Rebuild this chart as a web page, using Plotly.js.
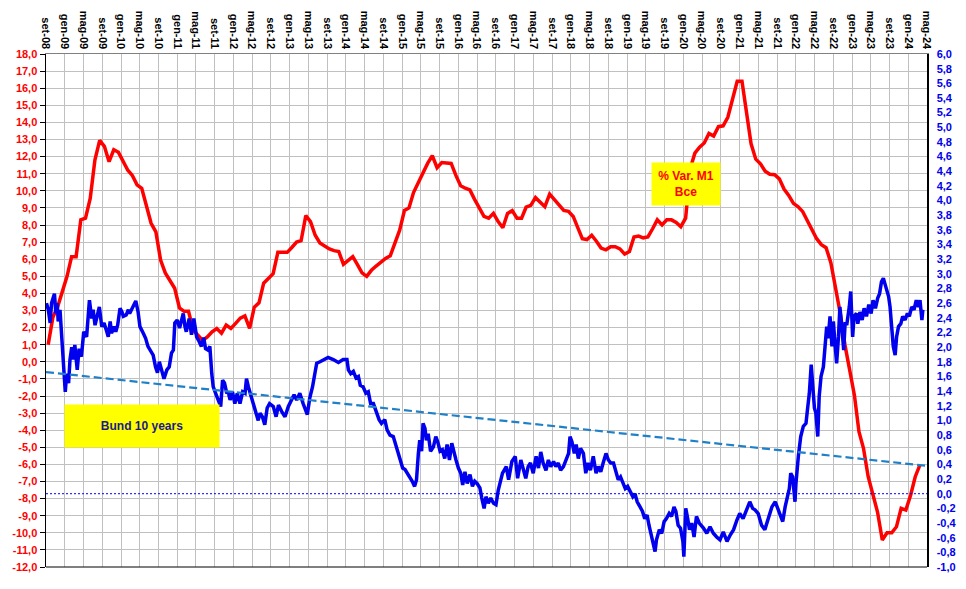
<!DOCTYPE html>
<html>
<head>
<meta charset="utf-8">
<script src="https://cdn.plot.ly/plotly-3.0.1.min.js"></script>
<style>html,body{margin:0;padding:0;background:#fff;}#chart{width:966px;height:589px;}</style>
</head>
<body>
<div id="chart"></div>
<script>
// ---- x-axis tick labels (every 4 months, from set-08 to mag-24) ----
const monthLabels = ['set-08','gen-09','mag-09','set-09','gen-10','mag-10','set-10','gen-11','mag-11','set-11',
  'gen-12','mag-12','set-12','gen-13','mag-13','set-13','gen-14','mag-14','set-14','gen-15','mag-15','set-15',
  'gen-16','mag-16','set-16','gen-17','mag-17','set-17','gen-18','mag-18','set-18','gen-19','mag-19','set-19',
  'gen-20','mag-20','set-20','gen-21','mag-21','set-21','gen-22','mag-22','set-22','gen-23','mag-23','set-23',
  'gen-24','mag-24'];

// ---- % Var. M1 Bce : monthly values, set-08 .. mar-24 (left axis) ----
const m1Values = [
  1.0, 2.6, 3.2, 4.1, 5.0, 6.15, 6.15, 8.3, 8.4, 9.55,
  11.8, 12.95, 12.6, 11.7, 12.4, 12.25, 11.7, 11.2, 10.9, 10.35,
  10.15, 9.1, 8.1, 7.6, 5.95, 5.2, 4.75, 4.3, 3.15, 2.95,
  2.95, 1.85, 1.55, 1.25, 1.45, 1.75, 1.95, 1.67, 2.15, 1.95,
  2.25, 2.55, 2.68, 1.96, 3.2, 3.45, 4.6, 4.9, 5.15, 6.4,
  6.4, 6.4, 6.7, 7.0, 7.08, 8.55, 8.2, 7.4, 6.95, 6.75,
  6.6, 6.5, 6.45, 5.7, 5.95, 6.15, 5.7, 5.2, 5.0, 5.35,
  5.6, 5.85, 6.05, 6.2, 6.9, 7.7, 8.85, 9.0, 9.9, 10.5,
  11.1, 11.6, 12.05, 11.35, 11.65, 11.62, 11.6, 10.9, 10.3, 10.15,
  10.05, 9.5, 9.0, 8.5, 8.4, 8.68, 8.2, 7.84, 8.68, 8.84,
  8.4, 8.4, 9.04, 9.15, 9.6, 9.3, 9.07, 9.8, 9.46, 9.2,
  8.85, 8.8, 8.5, 7.85, 7.2, 7.15, 7.4, 7.05, 6.65, 6.55,
  6.73, 6.73, 6.6, 6.3, 6.45, 7.3, 7.35, 7.25, 7.3, 7.78,
  8.3, 8.0, 8.3, 8.3, 8.15, 7.9, 8.4, 11.3, 12.2, 12.55,
  12.8, 13.35, 13.2, 13.75, 13.8, 14.3, 15.4, 16.4, 16.4, 14.5,
  12.75, 11.85, 11.58, 11.15, 10.97, 10.94, 10.7, 10.1, 9.73, 9.27,
  9.06, 8.78, 8.26, 7.76, 7.2, 6.85, 6.67, 5.8, 4.35, 2.84,
  0.99, -0.38, -1.95, -4.09, -5.06, -6.72, -7.7, -8.8, -10.42, -10.0,
  -10.0, -9.65, -8.57, -8.67, -7.8, -6.72, -6.04
];

// ---- Bund 10 years (right axis): time in months since 1 Sep 2008, and yield ----
const bundT = [
  0.1,0.5,0.9,1.2,1.8,2.1,2.4,2.6,3.0,3.2,
  3.5,3.7,4.1,4.4,4.8,5.1,5.5,5.8,6.2,6.7,
  7.1,7.6,8.1,8.7,9.3,9.8,10.1,10.5,11.0,11.4,
  11.9,12.4,13.0,13.3,13.7,14.0,14.5,14.9,15.3,15.8,
  16.2,16.5,17.1,17.6,17.9,18.5,19.2,19.7,20.1,20.8,
  21.3,21.8,22.2,22.9,23.4,23.8,24.2,24.7,25.2,25.8,
  26.3,26.8,27.2,27.5,28.0,28.5,29.0,29.3,29.7,30.0,
  30.6,31.1,31.6,32.2,32.7,33.2,33.7,34.1,34.6,35.0,
  35.4,35.7,36.1,36.8,37.3,37.7,38.1,38.6,38.9,39.3,
  39.8,40.3,40.8,41.4,42.0,42.5,42.8,43.2,43.5,44.3,
  45.0,45.3,45.7,46.2,46.7,47.2,47.7,
  48.5,49.1,49.6,50.3,51.0,51.7,52.4,52.9,53.5,54.2,
  54.9,55.8,56.3,56.9,57.4,57.8,58.5,59.2,60.2,61.3,
  62.4,63.4,64.2,64.5,65.0,65.6,66.2,66.7,67.1,67.7,
  68.3,68.8,69.3,69.9,70.4,71.1,71.6,72.3,72.8,73.4,
  74.1,74.8,75.5,76.1,76.6,77.1,77.7,78.2,78.7,79.1,
  79.5,79.8,80.2,80.5,80.9,81.2,81.6,82.1,82.7,83.2,
  83.6,84.1,84.6,85.1,85.6,86.1,86.6,86.9,87.5,88.0,
  88.5,88.9,89.4,89.9,90.5,91.0,91.5,92.0,92.6,93.0,
  93.5,93.9,94.4,94.9,95.5,96.0,96.5,
  97.4,98.2,98.7,99.4,100.1,100.6,101.3,101.9,102.4,102.9,
  103.4,104.0,104.6,105.1,105.6,106.1,106.7,107.2,107.7,108.3,
  108.8,109.3,109.8,110.4,111.0,111.5,111.8,112.2,112.7,113.1,
  113.6,114.1,114.7,115.2,115.7,116.2,116.8,117.4,117.9,118.4,
  118.9,119.5,120.0,120.5,121.1,121.6,122.1,122.6,123.1,123.6,
  124.1,124.6,125.2,125.7,126.2,126.8,127.3,127.8,128.3,128.7,
  129.2,129.6,130.0,130.3,130.9,131.4,131.9,132.4,133.0,133.5,
  134.0,134.4,134.9,135.4,135.9,136.1,136.5,136.9,137.3,137.8,
  138.3,138.8,139.4,
  140.3,141.0,141.7,142.4,143.1,143.8,144.5,145.3,146.0,146.7,
  147.4,148.0,148.7,149.4,150.2,150.8,151.3,152.0,152.7,153.4,
  154.1,154.9,155.6,156.3,157.2,157.7,158.2,158.6,158.9,159.3,
  159.8,160.0,160.5,161.0,161.6,162.2,162.5,162.9,163.3,163.6,
  164.0,164.3,164.7,165.0,165.4,165.9,166.2,166.6,166.9,167.3,
  167.7,168.0,168.4,168.7,169.1,169.4,169.8,170.2,170.5,170.9,
  171.4,171.7,172.1,172.4,172.9,173.2,173.7,174.2,174.6,175.1,
  175.6,176.1,176.5,177.0,177.5,177.9,178.3,178.7,179.0,179.4,
  179.8,180.1,180.5,180.8,181.2,181.5,181.9,182.4,182.8,183.3,
  183.8,184.2,184.7,185.2,185.7,186.2,186.5,186.9,187.1
];
const bundY = [
  2.60,2.51,2.33,2.60,2.73,2.46,2.60,2.35,2.51,2.28,
  1.92,1.69,1.39,1.64,1.51,1.83,2.00,1.83,2.03,1.69,
  1.98,1.87,2.21,2.14,2.64,2.39,2.51,2.30,2.44,2.55,
  2.28,2.33,2.21,2.14,2.35,2.19,2.28,2.21,2.30,2.53,
  2.48,2.42,2.44,2.51,2.46,2.53,2.63,2.48,2.28,2.19,
  2.12,2.01,1.96,1.89,1.73,1.65,1.80,1.69,1.57,1.69,
  1.73,1.92,1.96,2.33,2.37,2.26,2.42,2.46,2.28,2.21,
  2.39,2.17,2.39,2.14,2.08,2.01,2.13,1.98,1.96,2.01,
  1.64,1.46,1.39,1.28,1.19,1.55,1.51,1.37,1.39,1.28,
  1.39,1.23,1.37,1.23,1.39,1.37,1.57,1.46,1.39,1.23,
  1.07,1.00,1.10,1.05,0.94,1.17,1.23,
  1.19,1.05,1.21,1.12,1.05,1.19,1.30,1.35,1.28,1.37,
  1.23,1.08,1.30,1.46,1.64,1.78,1.80,1.83,1.86,1.83,
  1.79,1.83,1.83,1.69,1.64,1.67,1.58,1.60,1.48,1.46,
  1.37,1.39,1.23,1.23,1.14,1.01,0.96,1.01,0.87,0.80,
  0.78,0.64,0.51,0.35,0.33,0.28,0.23,0.17,0.10,0.19,
  0.55,0.73,0.58,0.96,0.89,0.73,0.82,0.58,0.64,0.78,
  0.71,0.58,0.60,0.48,0.67,0.46,0.69,0.60,0.46,0.35,
  0.28,0.12,0.30,0.14,0.26,0.10,0.17,0.14,0.08,-0.06,
  -0.20,-0.04,-0.13,-0.06,-0.13,-0.15,0.05,
  0.28,0.37,0.19,0.44,0.51,0.21,0.46,0.32,0.21,0.37,
  0.42,0.28,0.51,0.35,0.57,0.42,0.32,0.46,0.37,0.44,
  0.37,0.42,0.32,0.37,0.46,0.55,0.78,0.71,0.55,0.67,
  0.48,0.62,0.55,0.28,0.42,0.32,0.51,0.28,0.37,0.30,
  0.42,0.55,0.46,0.42,0.42,0.28,0.19,0.23,0.14,0.07,
  0.10,0.03,-0.04,0.00,-0.11,-0.18,-0.24,-0.34,-0.29,-0.43,
  -0.59,-0.72,-0.79,-0.63,-0.49,-0.54,-0.38,-0.34,-0.27,-0.31,
  -0.18,-0.24,-0.43,-0.47,-0.65,-0.86,-0.20,-0.34,-0.49,-0.40,
  -0.59,-0.31,-0.40,
  -0.47,-0.54,-0.45,-0.54,-0.59,-0.63,-0.52,-0.65,-0.56,-0.49,
  -0.36,-0.27,-0.34,-0.22,-0.11,-0.20,-0.22,-0.27,-0.43,-0.49,
  -0.36,-0.18,-0.11,-0.24,-0.38,-0.18,-0.04,0.07,0.28,0.23,
  -0.11,0.14,0.51,0.78,0.92,0.96,1.14,1.37,1.76,1.51,
  1.17,1.10,0.78,1.33,1.60,1.73,1.96,2.28,2.12,2.42,
  2.01,2.35,2.01,1.78,2.14,2.55,2.28,1.96,2.32,2.32,
  2.55,2.76,2.14,2.42,2.46,2.32,2.48,2.37,2.53,2.42,
  2.58,2.46,2.64,2.53,2.67,2.73,2.89,2.94,2.87,2.78,
  2.69,2.55,2.28,2.01,1.89,2.14,2.28,2.32,2.42,2.37,
  2.46,2.42,2.55,2.51,2.64,2.55,2.64,2.37,2.51
];

// ---- Linear trend of the Bund series (start / end values, right axis) ----
const trendY = [1.66, 0.38];
const zeroLevel = 0;

// ---- helpers ----
function monthToDate(m) {
  const k = Math.floor(m), f = m - k;
  const a = Date.UTC(2008, 8 + k, 1), b = Date.UTC(2008, 9 + k, 1);
  return new Date(a + f * (b - a)).toISOString().slice(0, 19).replace('T', ' ');
}
const fmt = v => v.toFixed(1).replace('.', ',');

const m1Dates = m1Values.map((_, k) => monthToDate(k + 0.47));
const bundDates = bundT.map(monthToDate);
const xStart = monthToDate(0), xEnd = monthToDate(188);
const tickVals = monthLabels.map((_, i) => monthToDate(4 * i));

const leftTicks = []; for (let v = -12; v <= 18; v++) leftTicks.push(v);
const rightTicks = []; for (let k = -5; k <= 30; k++) rightTicks.push(k / 5);

const FONT = 'Liberation Sans, Arial, sans-serif';

const traces = [
  { x: m1Dates, y: m1Values, type: 'scatter', mode: 'lines', yaxis: 'y',
    line: { color: '#ff0000', width: 3.5 }, name: '% Var. M1 Bce' },
  { x: bundDates, y: bundY, type: 'scatter', mode: 'lines', yaxis: 'y2',
    line: { color: '#0000ee', width: 3.5 }, name: 'Bund 10 years' },
  { x: [xStart, xEnd], y: trendY, type: 'scatter', mode: 'lines', yaxis: 'y2',
    line: { color: '#1f80c8', width: 2.2, dash: '8px,4px' }, name: 'trend' }
];

const layout = {
  width: 966, height: 589,
  margin: { l: 46, r: 39, t: 54, b: 22 },
  paper_bgcolor: '#ffffff', plot_bgcolor: '#ffffff',
  showlegend: false,
  xaxis: {
    type: 'date', range: [xStart, xEnd], side: 'top',
    tickmode: 'array', tickvals: tickVals, ticktext: monthLabels,
    tickangle: 90, ticks: '',
    tickfont: { family: FONT, size: 11, color: '#000000', weight: 'bold' },
    showgrid: true, gridcolor: '#c0c0c0', gridwidth: 1,
    showline: true, linecolor: '#808080', linewidth: 1,
    zeroline: false, automargin: false, fixedrange: true
  },
  yaxis: {
    range: [-12, 18], tickmode: 'array', tickvals: leftTicks, ticktext: leftTicks.map(fmt),
    tickfont: { family: FONT, size: 11, color: '#ff0000', weight: 'bold' },
    ticks: 'outside', ticklen: 5, tickcolor: '#000000', tickwidth: 1,
    showline: true, linecolor: '#000000', linewidth: 1.5,
    showgrid: true, gridcolor: '#c0c0c0', gridwidth: 1,
    zeroline: false, automargin: false, fixedrange: true
  },
  yaxis2: {
    overlaying: 'y', side: 'right', range: [-1, 6],
    tickmode: 'array', tickvals: rightTicks, ticktext: rightTicks.map(fmt),
    tickfont: { family: FONT, size: 11, color: '#0000ee', weight: 'bold' },
    ticks: '', ticklabelstandoff: 6,
    showline: true, linecolor: '#000000', linewidth: 1.5,
    showgrid: false, zeroline: false, automargin: false, fixedrange: true
  },
  shapes: [
    { type: 'line', xref: 'paper', yref: 'paper', x0: 0, x1: 1, y0: 0, y1: 0,
      line: { color: '#000000', width: 1 } },
    { type: 'line', xref: 'paper', yref: 'y2', x0: 0, x1: 1, y0: zeroLevel, y1: zeroLevel,
      line: { color: '#0000ff', width: 1, dash: '2px,2px' } }
  ],
  annotations: [
    { xref: 'x', yref: 'y', x: monthToDate(20.5), y: -3.75,
      text: '<b>Bund 10 years</b>', showarrow: false,
      font: { family: FONT, size: 12, color: '#1a1a8a' },
      bgcolor: '#ffff00', width: 154, height: 42, borderpad: 0,
      xanchor: 'center', yanchor: 'middle' },
    { xref: 'x', yref: 'y', x: monthToDate(136.6), y: 10.37,
      text: '<b>% Var. M1<br>Bce</b>', showarrow: false,
      font: { family: FONT, size: 12, color: '#ff0000' },
      bgcolor: '#ffff00', width: 68, height: 42, borderpad: 0,
      xanchor: 'center', yanchor: 'middle' }
  ]
};

Plotly.newPlot('chart', traces, layout, { displayModeBar: false, staticPlot: true });
</script>
</body>
</html>
